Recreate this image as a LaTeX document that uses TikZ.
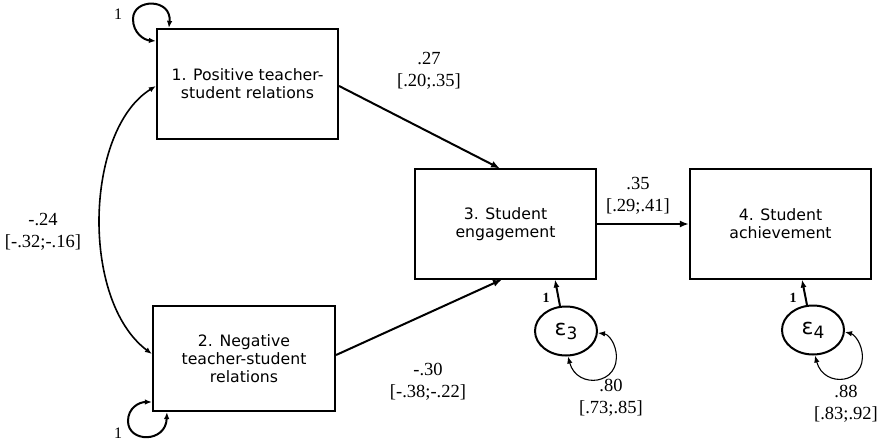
\documentclass[tikz,border=0pt]{standalone}
\usepackage{fontspec}
\setmainfont{Liberation Serif}
\newfontfamily\boxfont{DejaVu Sans}
\usetikzlibrary{arrows.meta,shapes.geometric}
\begin{document}
\begin{tikzpicture}[x=1pt,y=-1pt,
  var/.style={draw,line width=2.2pt,minimum width=181pt,minimum height=110pt,
    align=center,font=\boxfont\fontsize{15.7}{18}\selectfont,inner sep=0pt},
  errv/.style={draw,ellipse,line width=2pt,minimum width=62pt,minimum height=49pt,
    inner sep=0pt,font=\boxfont\fontsize{22}{22}\selectfont},
  path/.style={line width=2pt,-{Latex[length=9pt,width=7pt]}},
  bihead/.style={{Latex[length=7pt,width=5.5pt]}-{Latex[length=7pt,width=5.5pt]}},
  est/.style={align=center,font=\fontsize{18.5}{22.5}\selectfont,inner sep=0pt},
  one/.style={font=\fontsize{16}{17}\selectfont,inner sep=0pt},
  onebold/.style={font=\bfseries\fontsize{14}{15}\selectfont,inner sep=0pt}]
\useasboundingbox (0,0) rectangle (884,445);

% observed variables
\node[var] (pos) at (247.5,84) {1. Positive teacher-\\student relations};
\node[var,minimum width=182pt,minimum height=105pt] (neg) at (244,358.5) {2. Negative\\teacher-student\\relations};
\node[var] (eng) at (505.5,224) {3. Student\\engagement};
\node[var] (ach) at (780.5,224) {4. Student\\achievement};

% residuals
\node[errv] (e3) at (566,331) {ε\raisebox{-4pt}{\fontsize{17}{17}\selectfont 3}};
\node[errv] (e4) at (813,330) {ε\raisebox{-4pt}{\fontsize{17}{17}\selectfont 4}};

% structural paths
\draw[path] (pos.east |- 0,86) -- (500,168.5);
\draw[path] (neg.east |- 0,355) -- (502,279.5);
\draw[path] (eng.east |- 0,224) -- (ach.west |- 0,224);

% covariance between predictors
\draw[line width=1.6pt,bihead]
  (pos.west |- 0,86) .. controls (85,130) and (80,300) .. (neg.west |- 0,354);

% variances of predictors
\draw[line width=2pt,bihead]
  (pos.north west) ++(13,0) .. controls (172,-2) and (133,-2) .. (133,19)
  .. controls (133,33) and (144,40) .. (pos.west |- 0,41);
\draw[line width=2pt,bihead]
  (neg.south west) ++(15,0) .. controls (166,443) and (128,443) .. (128,421)
  .. controls (128,408) and (139,402) .. (neg.west |- 0,402);

% residual paths
\draw[line width=2pt,-{Latex[length=8pt,width=6pt]}] (e3.north) ++(-6,0.5) -- (555,279.5);
\draw[line width=2pt,-{Latex[length=8pt,width=6pt]}] (e4.north) ++(-6,0.5) -- (802,279.5);

% residual variances
\draw[line width=1.1pt,bihead] (e3.south) ++(2,0)
  .. controls (577,390) and (621,385) .. (616,352)
  .. controls (614,340) and (607,334) .. (e3.east |- 0,333);
\draw[line width=1.1pt,bihead] (e4.south) ++(2,0)
  .. controls (824,389) and (867,384) .. (862,352)
  .. controls (860,340) and (853,334) .. (e4.east |- 0,332);

% labels
\node[one] (v1) at (118,14) {1};
\node[one] (v2) at (118,433) {1};
\node[est] (l13) at (429,71) {.27\\{}[.20;.35]};
\node[est] (l23) at (428,382) {-.30\\{}[-.38;-.22]};
\node[est] (l34) at (638,196) {.35\\{}[.29;.41]};
\node[est] (lcov) at (43,232) {-.24\\{}[-.32;-.16]};
\node[est] (l3) at (611,398) {.80\\{}[.73;.85]};
\node[est] (l4) at (846,404) {.88\\{}[.83;.92]};
\node[onebold] (o3) at (546,298) {1};
\node[onebold] (o4) at (793,298) {1};
\end{tikzpicture}
\end{document}
